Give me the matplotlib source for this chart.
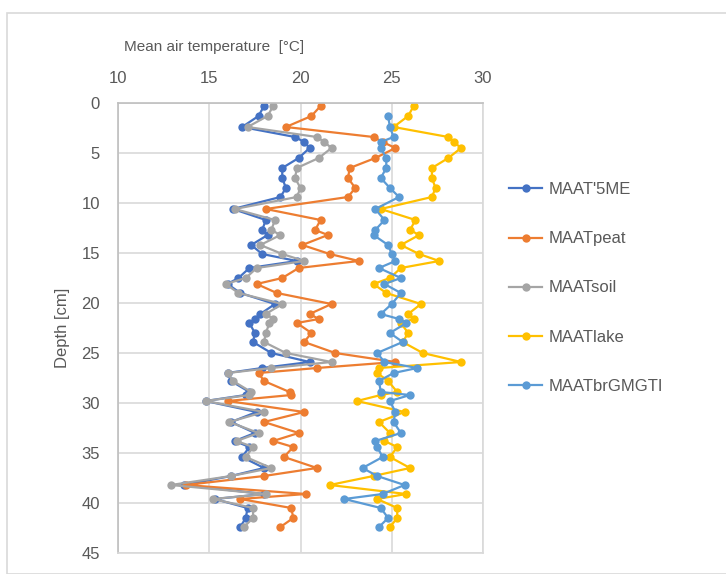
import numpy as np
import matplotlib
matplotlib.use("Agg")
import matplotlib.pyplot as plt
from matplotlib.patches import Rectangle

# depth of each sample [cm]
depth = [0.3, 1.3, 2.4, 3.4, 3.9, 4.5, 5.5, 6.5, 7.5, 8.5,
         9.4, 10.6, 11.7, 12.7, 13.2, 14.2, 15.1, 15.8, 16.5, 17.5,
         18.1, 19.0, 20.1, 21.1, 21.6, 22.0, 23.0, 23.9, 25.0, 25.9,
         26.5, 27.0, 27.8, 28.9, 29.2, 29.8, 30.9, 31.9, 33.0, 33.8,
         34.4, 35.4, 36.5, 37.3, 38.2, 39.1, 39.6, 40.5, 41.5, 42.4]

# temperature estimates for each proxy [°C]
mat_5me = [18.0, 17.7, 16.8, 19.7, 20.2, 20.5, 19.9, 19.0, 19.0, 19.2,
           18.9, 16.3, 18.1, 17.9, 18.2, 17.3, 17.9, 19.8, 17.2, 16.6,
           16.0, 16.7, 18.6, 17.8, 17.5, 17.2, 17.5, 17.4, 18.4, 20.5,
           17.9, 16.0, 16.2, 17.2, 17.0, 14.8, 17.6, 16.2, 17.5, 16.4,
           17.2, 16.8, 18.0, 16.2, 13.6, 18.0, 15.3, 17.1, 17.0, 16.7]
maat_peat = [21.1, 20.6, 19.2, 24.0, 24.5, 25.2, 24.1, 22.7, 22.6, 23.0,
             22.6, 18.1, 21.1, 20.8, 21.5, 20.1, 21.6, 23.2, 19.9, 19.0,
             17.6, 18.7, 21.7, 20.5, 21.0, 19.8, 20.6, 20.2, 21.9, 25.2,
             20.9, 17.7, 18.0, 19.4, 19.5, 16.0, 20.2, 18.0, 19.9, 18.5,
             19.6, 19.1, 20.9, 18.0, 13.7, 20.3, 16.7, 19.5, 19.6, 18.9]
maat_soil = [18.5, 18.2, 17.1, 20.9, 21.3, 21.7, 21.0, 19.8, 19.7, 20.0,
             19.8, 16.4, 18.6, 18.4, 18.9, 17.8, 19.0, 20.2, 17.6, 17.0,
             15.9, 16.6, 19.0, 18.1, 18.5, 18.3, 18.1, 18.0, 19.2, 21.7,
             18.4, 16.0, 16.3, 17.3, 17.2, 14.8, 18.0, 16.1, 17.7, 16.5,
             17.4, 17.0, 18.4, 16.2, 12.9, 18.1, 15.2, 17.4, 17.4, 16.9]
maat_lake = [26.2, 25.9, 25.1, 28.1, 28.4, 28.8, 28.1, 27.2, 27.2, 27.4,
             27.2, 24.4, 26.3, 26.0, 26.5, 25.5, 26.5, 27.6, 25.5, 24.9,
             24.0, 24.7, 26.6, 25.9, 26.2, 25.5, 25.9, 25.6, 26.7, 28.8,
             24.3, 24.2, 24.8, 25.3, 24.4, 23.1, 25.7, 24.3, 24.9, 24.6,
             25.3, 24.9, 26.0, 24.0, 21.6, 25.8, 24.2, 25.3, 25.3, 24.9]
maat_brgmgti = [np.nan, 24.8, 24.9, 25.1, 24.4, 24.4, 24.7, 24.7, 24.4, 24.9,
                25.4, 24.1, 24.6, 24.1, 24.0, 24.8, 25.0, 25.2, 24.3, 25.5,
                24.6, 25.5, 25.0, 24.4, 25.4, 25.8, 24.9, 25.6, 24.2, 24.6,
                26.4, 25.1, 24.3, 24.4, 26.0, 24.9, 25.2, 25.1, 25.5, 24.1,
                24.2, 24.5, 23.4, 24.2, 25.7, 24.5, 22.4, 24.4, 24.8, 24.3]

series_names = ["MAAT'5ME", "MAATpeat", "MAATsoil", "MAATlake", "MAATbrGMGTI"]
series_colors = ["#4472C4", "#ED7D31", "#A5A5A5", "#FFC000", "#5B9BD5"]
x_ticks = [10, 15, 20, 25, 30]
y_ticks = [0, 5, 10, 15, 20, 25, 30, 35, 40, 45]

plt.rcParams['font.family'] = ['Liberation Sans', 'DejaVu Sans']
text_col = "#595959"

fig = plt.figure(figsize=(7.26, 5.74), dpi=100)
# chart area border
fig.patches.append(Rectangle((7 / 726, 0), 1.0, 1 - 13 / 574, transform=fig.transFigure,
                             fill=False, edgecolor="#D9D9D9", linewidth=1.2))

ax = fig.add_axes([118 / 726, 1 - 553 / 574, (483 - 118) / 726, (553 - 103) / 574])

all_series = [mat_5me, maat_peat, maat_soil, maat_lake, maat_brgmgti]
for vals, name, col in zip(all_series, series_names, series_colors):
    ax.plot(vals, depth, color=col, lw=1.6, marker='o', markersize=6,
            markeredgewidth=0, label=name)

ax.set_xlim(10, 30)
ax.set_ylim(45, 0)
ax.set_xticks(x_ticks)
ax.set_yticks(y_ticks)
ax.xaxis.tick_top()
ax.tick_params(length=0, labelsize=12, labelcolor=text_col)
ax.tick_params(axis='x', pad=12)
ax.tick_params(axis='y', pad=13)
ax.grid(True, color="#D9D9D9", lw=1.2)
ax.set_axisbelow(True)
for s in ['right', 'bottom']:
    ax.spines[s].set_color("#D9D9D9")
    ax.spines[s].set_linewidth(1.2)
for s in ['left', 'top']:
    ax.spines[s].set_color("#BFBFBF")
    ax.spines[s].set_linewidth(1.2)

ax.set_ylabel("Depth [cm]", fontsize=12, color=text_col, labelpad=8)
fig.text(214 / 726, 1 - 47 / 574, "Mean air temperature  [°C]", fontsize=11,
         color=text_col, ha='center', va='center')

fig.legend(loc='center left', bbox_to_anchor=(494 / 726, 1 - 288 / 574),
           frameon=False, fontsize=12, labelspacing=2.05, handlelength=2.0,
           handletextpad=0.4, labelcolor=text_col)

fig.savefig("out.png", dpi=100)
